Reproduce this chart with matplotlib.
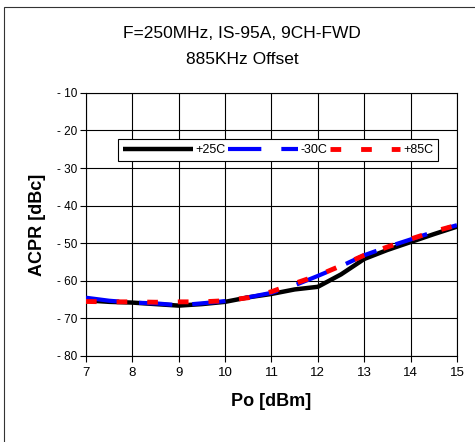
#!/usr/bin/env python3

import matplotlib
matplotlib.use("Agg")
import matplotlib.pyplot as plt
from matplotlib.patches import Rectangle

plt.rcParams["font.family"] = ["Liberation Sans", "DejaVu Sans"]

po_dbm = [7, 7.5, 8, 8.5, 9, 9.5, 10, 10.5, 11, 11.5, 12, 12.5, 13, 13.5, 14, 14.5, 15]
acpr_25c = [-65.2, -65.6, -65.8, -66.2, -66.6, -66.2, -65.6, -64.4, -63.5, -62.3,
            -61.6, -58.3, -54.2, -51.8, -49.7, -47.6, -45.6]
acpr_m30c = [-64.5, -65.3, -65.8, -66.0, -66.5, -66.0, -65.4, -64.4, -63.2, -61.2,
             -58.7, -56.1, -53.2, -51.0, -49.0, -47.0, -45.2]
acpr_85c = [-65.5, -65.6, -65.6, -65.7, -65.6, -65.6, -65.3, -64.5, -62.9, -60.7,
            -58.6, -56.0, -53.2, -51.0, -48.9, -46.9, -45.2]

yticks = [-10, -20, -30, -40, -50, -60, -70, -80]
xticks = [7, 8, 9, 10, 11, 12, 13, 14, 15]

fig = plt.figure(figsize=(4.75, 4.42), dpi=100)
ax = fig.add_axes([0.181, 0.1946, 0.781, 0.5954])

# outer chart frame (clipped at right/bottom like the original)
fig.patches.append(
    Rectangle((4 / 475, -0.1), 1.2, 1.1 - 7 / 442, transform=fig.transFigure,
              fill=False, edgecolor="#333333", linewidth=0.8, clip_on=False)
)

ax.plot(po_dbm, acpr_25c, color="black", linewidth=3.2, solid_capstyle="butt",
        label="+25C", zorder=3)
ax.plot(po_dbm, acpr_m30c, color="blue", linewidth=3.0, dashes=(8.0, 4.8),
        label="-30C", zorder=4)
ax.plot(po_dbm, acpr_85c, color="red", linewidth=3.5, dashes=(2.2, 4.1),
        label="+85C", zorder=5)

ax.set_xlim(7, 15)
ax.set_ylim(-80, -10)
ax.set_xticks(xticks)
ax.set_yticks(yticks)
ax.set_xticklabels([str(x) for x in xticks], fontsize=9.5)
ax.set_yticklabels([f"- {abs(y)}" for y in yticks], fontsize=8.5)
ax.tick_params(direction="out", length=4, width=0.8, color="black", pad=2)
ax.tick_params(axis="x", pad=4)
ax.grid(True, color="black", linewidth=0.8)
ax.set_axisbelow(True)
for s in ax.spines.values():
    s.set_linewidth(0.8)
    s.set_color("black")

ax.set_xlabel("Po [dBm]", fontsize=13, fontweight="bold", labelpad=10)
ax.set_ylabel("ACPR [dBc]", fontsize=13, fontweight="bold", labelpad=8)

fig.text(0.51, 0.925, "F=250MHz, IS-95A, 9CH-FWD", ha="center", va="center", fontsize=12.5)
fig.text(0.51, 0.866, "885KHz Offset", ha="center", va="center", fontsize=12.5)

leg = ax.legend(loc="lower left", bbox_to_anchor=(0.086, 0.741, 0.863, 0.091),
                mode="expand", ncol=3, fontsize=9, handlelength=5.6,
                handletextpad=0.2, columnspacing=1.0, borderaxespad=0,
                frameon=True, fancybox=False, borderpad=0.4)
leg.get_frame().set_edgecolor("black")
leg.get_frame().set_linewidth(0.8)
leg.get_frame().set_alpha(1)

fig.savefig("out.png", dpi=100)
